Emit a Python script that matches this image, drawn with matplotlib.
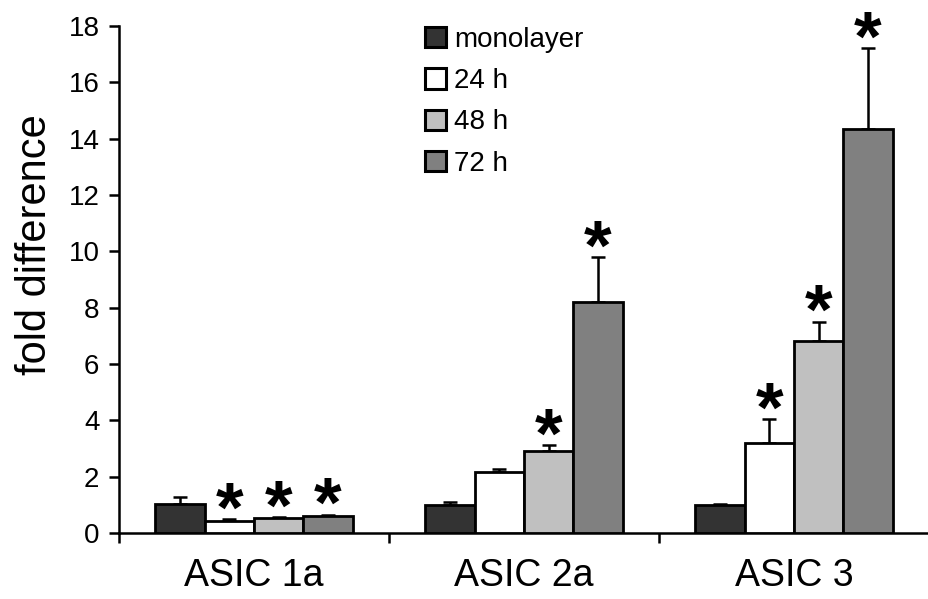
import numpy as np
from matplotlib import pyplot as plt

plt.rcParams['font.family'] = ['Liberation Sans', 'DejaVu Sans']

groups = ['ASIC 1a', 'ASIC 2a', 'ASIC 3']
series = ['monolayer', '24 h', '48 h', '72 h']
colors = ['#333333', '#ffffff', '#c0c0c0', '#808080']

# fold difference per series, one value per group
means = [
    [1.02, 0.99, 1.00],   # monolayer
    [0.44, 2.18, 3.21],   # 24 h
    [0.52, 2.92, 6.82],   # 48 h
    [0.60, 8.20, 14.35],  # 72 h
]
errs = [
    [0.25, 0.10, 0.02],
    [0.05, 0.08, 0.84],
    [0.04, 0.20, 0.68],
    [0.05, 1.59, 2.85],
]
# significance marks
stars = [
    [False, False, False],
    [True, False, True],
    [True, True, True],
    [True, True, True],
]

fig = plt.figure(figsize=(9.29, 5.99), dpi=100)
ax = fig.add_axes([0.128, 0.110, 0.872, 0.847])

x = np.arange(len(groups))
w = 0.183
for i, name in enumerate(series):
    pos = x + (i - 1.5) * w
    ax.bar(pos, means[i], w, color=colors[i], edgecolor='black', linewidth=2.0,
           label=name, zorder=3)
    ax.errorbar(pos, means[i], yerr=[np.zeros(len(groups)), errs[i]], fmt='none',
                ecolor='black', elinewidth=1.8, capsize=5, capthick=1.8, zorder=2)
    for j in range(len(groups)):
        if stars[i][j]:
            ax.text(pos[j], means[i][j] + errs[i][j] + 0.2, '*', ha='center', va='center',
                    fontsize=51, fontweight='bold')

ax.set_xlim(-0.5, 2.5)
ax.set_ylim(0, 18)
ax.set_yticks(range(0, 19, 2))
ax.set_xticks(x)
ax.set_xticklabels(groups, fontsize=27)
ax.set_xticks([-0.5, 0.5, 1.5, 2.5], minor=True)
ax.tick_params(axis='x', which='major', length=0, pad=18)
ax.tick_params(axis='x', which='minor', length=7, width=1.8, direction='out')
ax.tick_params(axis='y', labelsize=20, length=7, width=1.8, direction='out', pad=7)
ax.set_ylabel('fold difference', fontsize=30)
ax.yaxis.set_label_coords(-0.079, 0.568)

for s in ['top', 'right']:
    ax.spines[s].set_visible(False)
for s in ['left', 'bottom']:
    ax.spines[s].set_linewidth(1.8)

leg = ax.legend(loc='upper left', bbox_to_anchor=(0.347, 1.047), frameon=False, fontsize=20,
                handlelength=0.75, handleheight=0.75, handletextpad=0.3, labelspacing=0.55)
for h in leg.legend_handles:
    h.set_linewidth(2.2)

plt.savefig('out.png', dpi=100)
